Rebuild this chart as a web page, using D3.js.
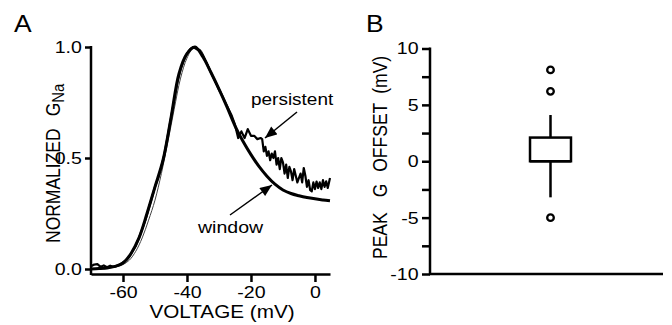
<!DOCTYPE html>
<html>
<head>
<meta charset="utf-8">
<script src="https://cdn.jsdelivr.net/npm/d3@7"></script>
<style>
  body { margin: 0; background: #fff; }
  svg { display: block; font-family: "Liberation Sans", Arial, Helvetica, sans-serif; }
  .axis path, .axis line { stroke: #000; stroke-width: 2.5; }
  .axis text { font-size: 17px; fill: #000; }
</style>
</head>
<body>
<svg id="chart" width="672" height="325"></svg>
<script>
// panel A : normalized conductance vs voltage
const windowV = [-70, -67.5, -65, -62.5, -60, -57.5, -55, -52.5, -50, -47.5, -45, -42.5, -40, -37.5,
  -35, -32.5, -30, -27.5, -25, -22.5, -20, -17.5, -15, -12.5, -10, -7.5, -5, -2.5, 0, 2.5, 4.7]
const windowG = [0.0, 0.002, 0.005, 0.012, 0.027, 0.07, 0.14, 0.25, 0.37, 0.49, 0.68, 0.88, 0.97, 1.0,
  0.955, 0.885, 0.81, 0.73, 0.645, 0.575, 0.515, 0.462, 0.418, 0.382, 0.356, 0.34, 0.33, 0.322, 0.316, 0.311, 0.307]

const persistentV = [-70, -69, -68, -67, -66, -65, -64, -63, -62, -61, -60, -59, -58, -57, -56, -55, -54, -53,
  -52, -51, -50, -49, -48, -47, -46, -45, -44, -43, -42, -41, -40, -39, -38, -37, -36, -35, -34, -33, -32,
  -31, -30, -29, -28, -27, -26, -25, -24, -23, -22, -21, -20, -19, -18, -17, -16.5, -16, -15.5, -15, -14.5,
  -14, -13.5, -13, -12.5, -12, -11.5, -11, -10.5, -10, -9.5, -9, -8.5, -8, -7.5, -7, -6.5, -6, -5.5, -5, -4.5,
  -4, -3.5, -3, -2.5, -2, -1.5, -1, -0.5, 0, 0.5, 1, 1.5, 2, 2.5, 3, 3.5, 4, 4.7]
const persistentG = [0.012, 0.02, 0.022, 0.01, 0.016, 0.008, 0.015, 0.01, 0.014, 0.02, 0.03, 0.04, 0.055,
  0.08, 0.105, 0.14, 0.18, 0.22, 0.27, 0.32, 0.37, 0.41, 0.46, 0.52, 0.6, 0.68, 0.76, 0.84, 0.9, 0.94, 0.97,
  0.99, 1.0, 0.99, 0.985, 0.96, 0.93, 0.9, 0.87, 0.84, 0.81, 0.78, 0.75, 0.72, 0.69, 0.65, 0.59, 0.62, 0.59,
  0.63, 0.6, 0.6, 0.585, 0.59, 0.585, 0.53, 0.55, 0.51, 0.53, 0.49, 0.52, 0.5, 0.53, 0.47, 0.5, 0.45, 0.5,
  0.48, 0.43, 0.47, 0.41, 0.46, 0.44, 0.4, 0.45, 0.42, 0.39, 0.41, 0.43, 0.39, 0.455, 0.42, 0.37, 0.4, 0.355,
  0.35, 0.39, 0.36, 0.394, 0.365, 0.39, 0.36, 0.4, 0.37, 0.395, 0.365, 0.41, 0.38]

// thin trace from another cell
const otherV = [-66, -64, -62, -60, -58, -56, -54, -52, -50, -48, -46, -44, -42, -40, -38, -36, -34, -32, -30]
const otherG = [0.0, 0.005, 0.01, 0.02, 0.04, 0.08, 0.14, 0.22, 0.31, 0.43, 0.57, 0.72, 0.86, 0.95, 0.995,
  0.99, 0.94, 0.87, 0.8]

const xTicksA = [-60, -40, -20, 0]
const yTicksA = [0, 0.5, 1]

// panel B : peak G offset box plot
const boxCategory = ['cells']
const boxStats = { low: -3.2, q1: 0, median: 0, q3: 2.1, high: 4.1 }
const outliers = [8.1, 6.2, -5.0]
const yTicksB = [-10, -7.5, -5, -2.5, 0, 2.5, 5, 7.5, 10]

const SX = 1.15 // the figure is slightly stretched sideways
const hyphen = f => d => f(d).replace('\u2212', '-')
const svg = d3.select('#chart')

svg.append('defs').append('marker')
  .attr('id', 'head')
  .attr('markerUnits', 'userSpaceOnUse')
  .attr('viewBox', '0 0 12 10')
  .attr('refX', 12).attr('refY', 5)
  .attr('markerWidth', 13).attr('markerHeight', 10)
  .attr('orient', 'auto')
  .append('path').attr('d', 'M0,0 L12,5 L0,10 Z').attr('fill', '#000')

/* ---------- panel A ---------- */
const xA = d3.scaleLinear().domain([-70, 4.7]).range([91, 330])
const yA = d3.scaleLinear().domain([0, 1]).range([269, 47])

const gA = svg.append('g')

gA.append('g').attr('class', 'axis')
  .attr('transform', 'translate(0,274)')
  .call(d3.axisBottom(xA).tickValues(xTicksA).tickFormat(hyphen(d3.format('d')))
    .tickSize(8).tickSizeOuter(0).tickPadding(4))
  .selectAll('.tick text').attr('transform', `scale(${SX},1)`)

gA.append('g').attr('class', 'axis y-a')
  .attr('transform', 'translate(91,0)')
  .call(d3.axisLeft(yA).tickValues(yTicksA).tickFormat(d3.format('.1f')).tickSize(6).tickSizeOuter(0).tickPadding(2))
  .call(g => g.select('.domain').remove())
  .selectAll('.tick text').attr('transform', `scale(${SX},1)`)

gA.append('line').attr('x1', 91).attr('x2', 91).attr('y1', 46).attr('y2', 275)
  .attr('stroke', '#000').attr('stroke-width', 2.5)

const lineA = d3.line().x(d => xA(d[0])).y(d => yA(d[1]))

gA.append('path')
  .datum(d3.zip(otherV, otherG))
  .attr('d', lineA.curve(d3.curveCatmullRom))
  .attr('fill', 'none').attr('stroke', '#444').attr('stroke-width', 1)

gA.append('path')
  .datum(d3.zip(persistentV, persistentG))
  .attr('d', lineA.curve(d3.curveLinear))
  .attr('fill', 'none').attr('stroke', '#000').attr('stroke-width', 2.2)
  .attr('stroke-linejoin', 'round')

gA.append('path')
  .datum(d3.zip(windowV, windowG))
  .attr('d', lineA.curve(d3.curveCatmullRom))
  .attr('fill', 'none').attr('stroke', '#000').attr('stroke-width', 3)

// annotations
gA.append('text').attr('transform', `translate(251,105) scale(${SX},1)`)
  .attr('font-size', 16.5).text('persistent')
gA.append('line').attr('x1', 297).attr('y1', 112).attr('x2', 265).attr('y2', 138)
  .attr('stroke', '#000').attr('stroke-width', 1.5).attr('marker-end', 'url(#head)')

gA.append('text').attr('transform', `translate(198,233) scale(${SX},1)`)
  .attr('font-size', 17).text('window')
gA.append('line').attr('x1', 230).attr('y1', 215).attr('x2', 272).attr('y2', 185)
  .attr('stroke', '#000').attr('stroke-width', 1.5).attr('marker-end', 'url(#head)')

gA.append('text').attr('transform', `translate(222,318) scale(${SX},1)`)
  .attr('text-anchor', 'middle').attr('font-size', 18).text('VOLTAGE (mV)')

const yLabA = gA.append('text')
  .attr('transform', `translate(59.5,243) rotate(-90) scale(1,${SX})`)
  .attr('font-size', 17.5)
yLabA.append('tspan').text('NORMALIZED')
yLabA.append('tspan').attr('dx', 12).text('G')
yLabA.append('tspan').attr('font-size', 15).attr('dy', 4).text('Na')

gA.append('text').attr('transform', `translate(14,32) scale(${SX},1)`)
  .attr('font-size', 23).text('A')

/* ---------- panel B ---------- */
const xB = d3.scaleBand().domain(boxCategory).range([430, 671])
const yB = d3.scaleLinear().domain([-10, 10]).range([274, 48.5])

const gB = svg.append('g')

gB.append('g').attr('class', 'axis')
  .attr('transform', 'translate(430,0)')
  .call(d3.axisLeft(yB).tickValues(yTicksB)
    .tickFormat(d => d % 5 === 0 ? hyphen(d3.format('d'))(d) : '')
    .tickSize(8).tickSizeOuter(0).tickPadding(2))
  .call(g => g.select('.domain').remove())
  .selectAll('.tick text').attr('transform', `scale(${SX},1)`)

gB.append('line').attr('x1', 430).attr('x2', 430).attr('y1', 47.5).attr('y2', 275)
  .attr('stroke', '#000').attr('stroke-width', 2.5)
gB.append('line').attr('x1', 429).attr('x2', 663).attr('y1', yB(-10)).attr('y2', yB(-10))
  .attr('stroke', '#000').attr('stroke-width', 2.5)

const cx = xB(boxCategory[0]) + xB.bandwidth() / 2
const bw = xB.bandwidth() * 0.17

gB.append('line').attr('x1', cx).attr('x2', cx).attr('y1', yB(boxStats.high)).attr('y2', yB(boxStats.q3))
  .attr('stroke', '#000').attr('stroke-width', 2.5)
gB.append('line').attr('x1', cx).attr('x2', cx).attr('y1', yB(boxStats.q1)).attr('y2', yB(boxStats.low))
  .attr('stroke', '#000').attr('stroke-width', 2.5)
gB.append('rect')
  .attr('x', cx - bw / 2).attr('width', bw)
  .attr('y', yB(boxStats.q3)).attr('height', yB(boxStats.q1) - yB(boxStats.q3))
  .attr('fill', '#fff').attr('stroke', '#000').attr('stroke-width', 2.5)
gB.append('line').attr('x1', cx - bw / 2).attr('x2', cx + bw / 2)
  .attr('y1', yB(boxStats.median)).attr('y2', yB(boxStats.median))
  .attr('stroke', '#000').attr('stroke-width', 2.5)

gB.selectAll('circle.out')
  .data(outliers)
  .join('circle')
  .attr('class', 'out')
  .attr('cx', cx).attr('cy', d => yB(d)).attr('r', 3.3)
  .attr('fill', '#fff').attr('stroke', '#000').attr('stroke-width', 2.3)

const yLabB = gB.append('text')
  .attr('transform', `translate(386.5,259) rotate(-90) scale(1,${SX})`)
  .attr('font-size', 17.5)
yLabB.append('tspan').text('PEAK')
yLabB.append('tspan').attr('dx', 15).text('G')
yLabB.append('tspan').attr('dx', 12).text('OFFSET')
yLabB.append('tspan').attr('dx', 9).text('(mV)')

gB.append('text').attr('transform', `translate(366,32) scale(${SX},1)`)
  .attr('font-size', 23).text('B')
</script>
</body>
</html>
